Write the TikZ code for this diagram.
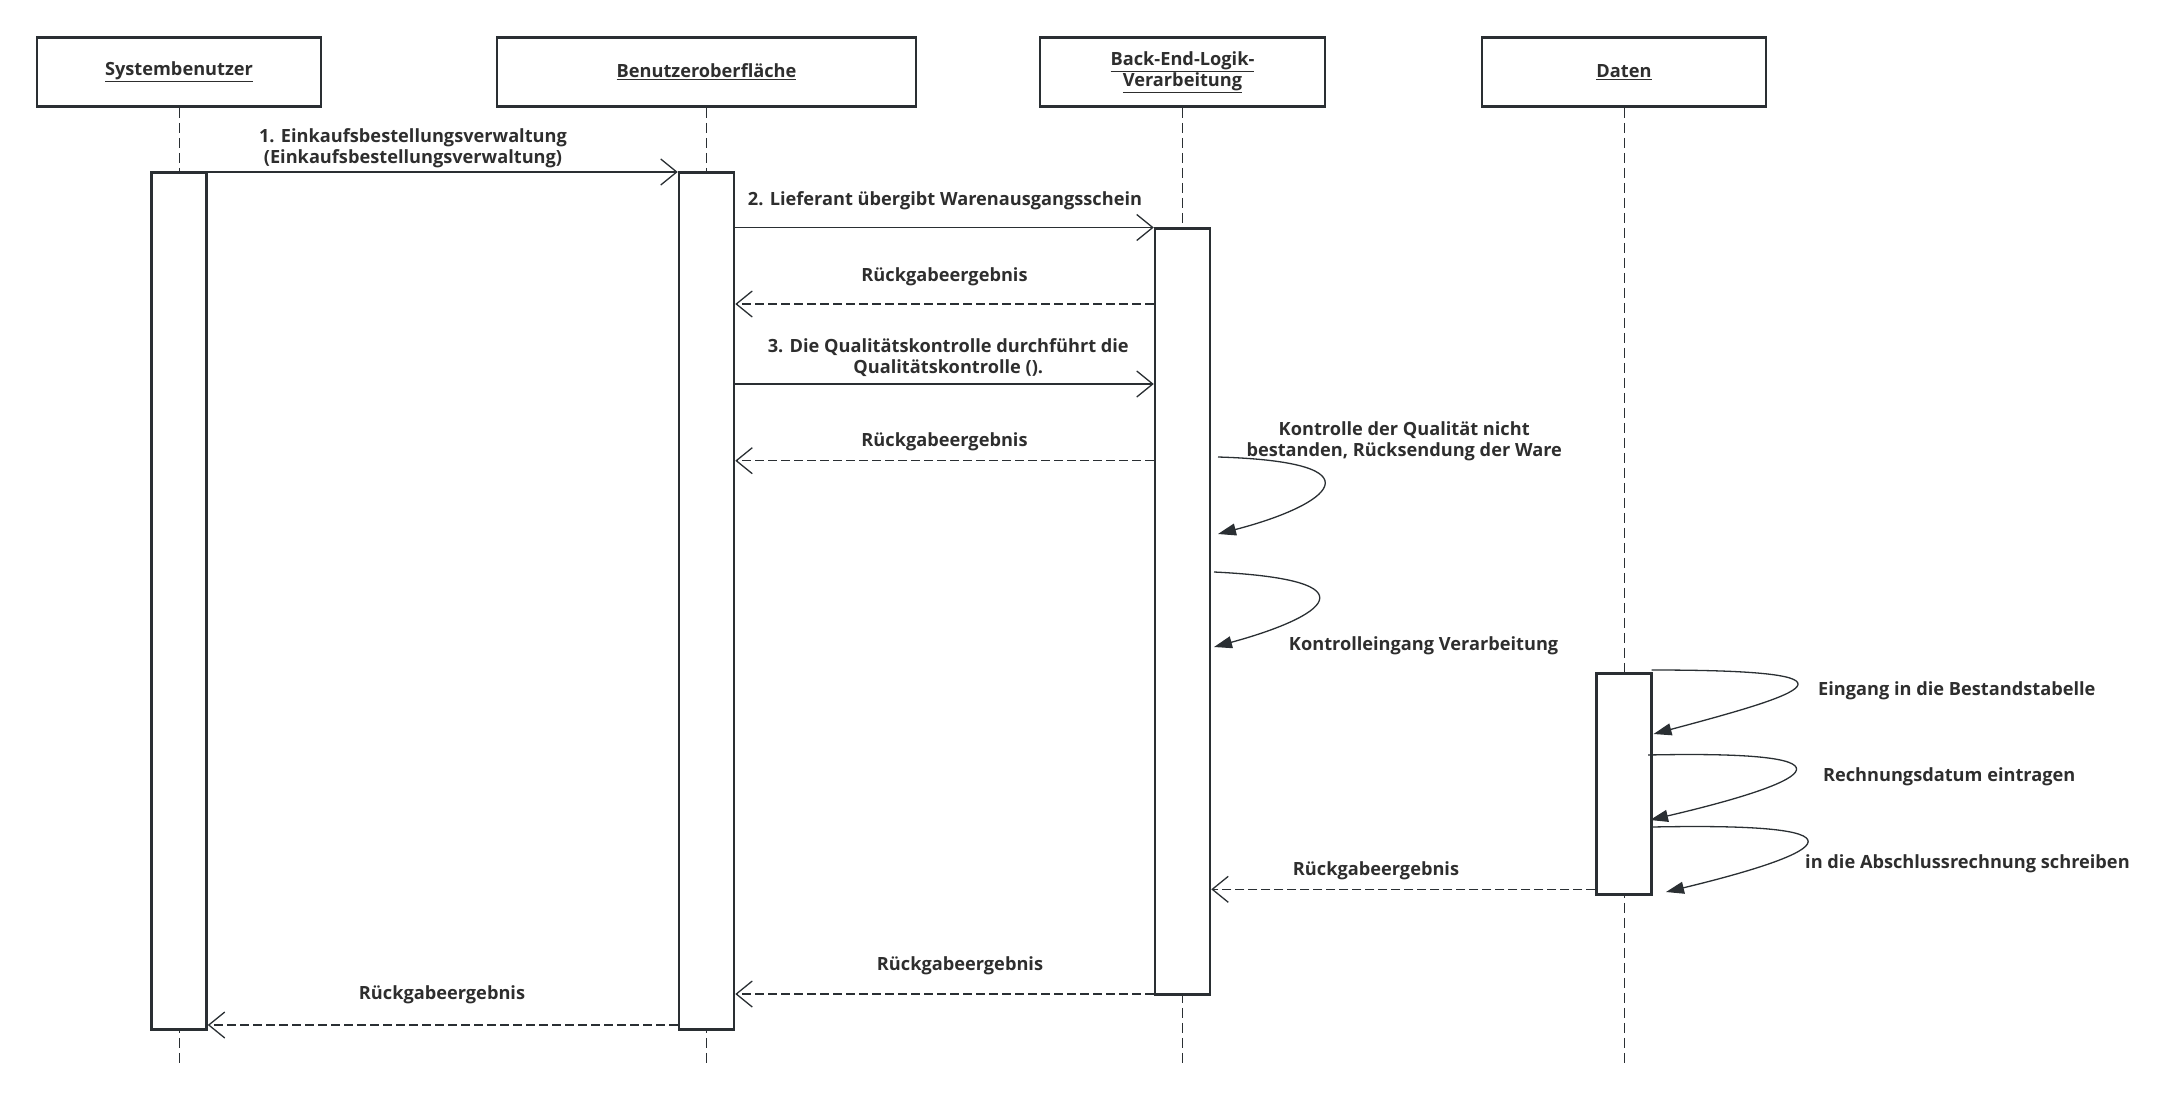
\documentclass[tikz,border=0pt]{standalone}
\usepackage{fontspec}
\setmainfont{Open Sans}
\usetikzlibrary{arrows.meta}
\definecolor{ink}{HTML}{2E2E2E}
\definecolor{edge}{HTML}{2A2F33}
\newcommand{\lbfont}{\fontsize{18.2}{21}\selectfont\bfseries}
\tikzset{
  head/.style={draw=edge, line width=2.5pt, fill=white, minimum height=69pt, align=center, font=\lbfont, text=ink},
  act/.style={draw=edge, line width=2.5pt, fill=white, minimum width=55pt, anchor=north, inner sep=0pt},
  life/.style={draw=edge, line width=1pt, dash pattern=on 10pt off 5pt},
  msg/.style={draw=edge, line width=1.3pt, -{Straight Barb[length=16pt,width=26pt,line width=1.3pt]}},
  ret/.style={msg, dash pattern=on 9pt off 4pt},
  selfmsg/.style={draw=edge, line width=1.3pt, -{Triangle[length=18pt,width=12pt]}},
  lbl/.style={font=\lbfont, text=ink, align=center, inner sep=0pt},
}
\begin{document}
\begin{tikzpicture}[x=1pt, y=-1pt]
\useasboundingbox (0,0) rectangle (2179,1103);
% Kopfzeilen
\node[head, minimum width=284pt] (h1) at (179,72) {\underline{Systembenutzer}};
\node[head, minimum width=419pt] (h2) at (706.5,72) {\underline{Benutzeroberfläche}};
\node[head, minimum width=285pt] (h3) at (1182.5,72) {\underline{Back-End-Logik-}\\\underline{Verarbeitung}};
\node[head, minimum width=284pt] (h4) at (1624,72) {\underline{Daten}};
% Lebenslinien
\coordinate (bot) at (0,1066);
\foreach \h in {h1,h2,h3,h4}
  \draw[life] (\h.south) -- (\h.south |- bot);
% Aktivierungen
\node[act, minimum height=857pt] (a1) at (179,171) {};
\node[act, minimum height=857pt] (a2) at (706.5,171) {};
\node[act, minimum height=766pt] (a3) at (1182.5,227) {};
\node[act, minimum height=221pt] (a4) at (1624,672) {};
% Nachrichten
\draw[msg] (a1.east |- 0,172) -- (a2.west |- 0,172);
\node[lbl, anchor=base] (t1) at (413,163.3) {1. Einkaufsbestellungsverwaltung\\(Einkaufsbestellungsverwaltung)};
\draw[msg] (a2.east |- 0,227.5) -- (a3.west |- 0,227.5);
\node[lbl, anchor=base] (t2) at (945,205.5) {2. Lieferant übergibt Warenausgangsschein};
\draw[ret] (a3.west |- 0,304) -- (a2.east |- 0,304);
\node[lbl, anchor=base] (t3) at (944.5,281.7) {Rückgabeergebnis};
\draw[msg] (a2.east |- 0,384) -- (a3.west |- 0,384);
\node[lbl, anchor=base] (t4) at (948.3,373.3) {3. Die Qualitätskontrolle durchführt die\\Qualitätskontrolle ().};
\draw[ret] (a3.west |- 0,460.7) -- (a2.east |- 0,460.7);
\node[lbl, anchor=base] (t5) at (944.5,446) {Rückgabeergebnis};
% Selbstaufrufe
\coordinate (s1a) at (1218,457);
\coordinate (s1b) at (1218,534);
\draw[selfmsg] (s1a) .. controls +(167,5) and +(112,-29) .. (s1b);
\node[lbl, anchor=base] (t6) at (1404.2,456) {Kontrolle der Qualität nicht\\bestanden, Rücksendung der Ware};
\coordinate (s2a) at (1214,572);
\coordinate (s2b) at (1214,647);
\draw[selfmsg] (s2a) .. controls +(165,8) and +(110,-30) .. (s2b);
\node[lbl, anchor=base] (t7) at (1423.6,650.7) {Kontrolleingang Verarbeitung};
\coordinate (s3a) at (1651.5,670);
\coordinate (s3b) at (1653.5,734);
\draw[selfmsg] (s3a) .. controls +(230,0) and +(150,-40) .. (s3b);
\node[lbl, anchor=base west] (t8) at (1818,695) {Eingang in die Bestandstabelle};
\coordinate (s4a) at (1648,755);
\coordinate (s4b) at (1650,820);
\draw[selfmsg] (s4a) .. controls +(235,-5) and +(150,-35) .. (s4b);
\node[lbl, anchor=base west] (t9) at (1822.8,781.7) {Rechnungsdatum eintragen};
\coordinate (s5a) at (1652,827);
\coordinate (s5b) at (1666,892);
\draw[selfmsg] (s5a) .. controls +(245,-5) and +(145,-35) .. (s5b);
\node[lbl, anchor=base west] (t10) at (1805,868) {in die Abschlussrechnung schreiben};
% Rückgaben
\draw[ret] (a4.west |- 0,889.3) -- (a3.east |- 0,889.3);
\node[lbl, anchor=base] (t11) at (1376,875) {Rückgabeergebnis};
\draw[ret] (a3.west |- 0,994) -- (a2.east |- 0,994);
\node[lbl, anchor=base] (t12) at (960,970.7) {Rückgabeergebnis};
\draw[ret] (a2.west |- 0,1025) -- (a1.east |- 0,1025);
\node[lbl, anchor=base] (t13) at (442,999) {Rückgabeergebnis};
\end{tikzpicture}
\end{document}
